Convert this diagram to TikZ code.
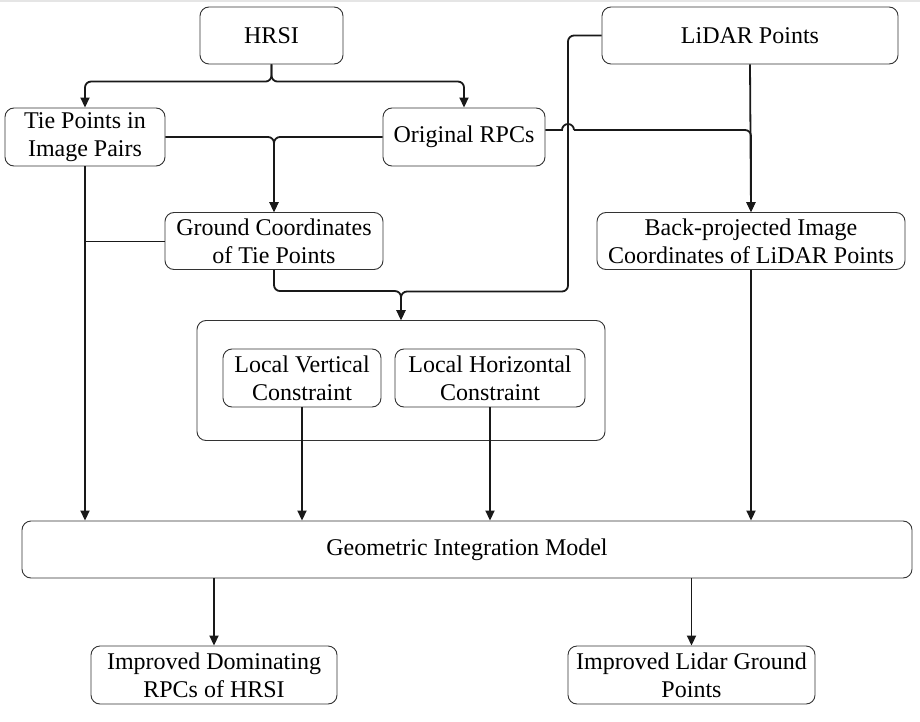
\documentclass[tikz,border=0pt]{standalone}
\usepackage{fontspec}
\setmainfont{Liberation Serif}
\usetikzlibrary{arrows.meta,calc}
\begin{document}
\begin{tikzpicture}[x=1pt,y=-1pt,
  box/.style={draw=black!80, line width=0.9pt, rounded corners=9pt, align=center,
    inner sep=0pt, font=\fontsize{24}{28}\selectfont, fill=white},
  conn/.style={line width=1.8pt, draw=black!90},
  arr/.style={conn, rounded corners=6pt, -{Triangle[length=10pt,width=9pt]}},
  thinline/.style={line width=1pt, draw=black!90}]
\useasboundingbox (0,0) rectangle (920,722);
\fill[black!10] (0,0) rectangle (920,2.5);
% nodes
\node[box, minimum width=408pt, minimum height=120pt] (cont) at (401,380.5) {};
\node[box, minimum width=143pt, minimum height=57pt] (hrsi) at (271.5,35.5) {HRSI};
\node[box, minimum width=296pt, minimum height=57pt] (lidar) at (750,35.5) {LiDAR Points};
\node[box, minimum width=160pt, minimum height=58pt] (tie) at (85,137) {Tie Points in\\Image Pairs};
\node[box, minimum width=162pt, minimum height=58pt] (rpc) at (464,137) {Original RPCs};
\node[box, minimum width=218pt, minimum height=57pt] (ground) at (274,241) {Ground Coordinates\\of Tie Points};
\node[box, minimum width=308pt, minimum height=57pt] (back) at (751,241) {Back-projected Image\\Coordinates of LiDAR Points};
\node[box, minimum width=158pt, minimum height=58pt] (lv) at (302,378) {Local Vertical\\Constraint};
\node[box, minimum width=190pt, minimum height=58pt] (lh) at (490,378) {Local Horizontal\\Constraint};
\node[box, minimum width=890pt, minimum height=57pt] (geom) at (467,549.5) {Geometric Integration Model};
\node[box, minimum width=246pt, minimum height=58pt] (dom) at (214,675) {Improved Dominating\\RPCs of HRSI};
\node[box, minimum width=247pt, minimum height=58pt] (ilg) at (691.5,675) {Improved Lidar Ground\\Points};
% helper coordinates
\coordinate (lj) at (568,291.5);
\coordinate (hopL) at (562,130);
\coordinate (hopR) at (574,130);
% connectors
\draw[arr] (hrsi.south) |- ([yshift=26pt]tie.north) -- (tie.north);
\draw[arr] (hrsi.south) |- ([yshift=26pt]rpc.north) -- (rpc.north);
\draw[arr] (tie.east) -| (ground.north);
\draw[arr] (rpc.west) -| (ground.north);
\draw[arr] (tie.south) -- (tie.south |- geom.north);
\draw[thinline] (ground.west) -- (ground.west -| tie.south);
\draw[arr] (ground.south) |- ([yshift=29pt]cont.north) -- (cont.north);
\draw[arr] (lidar.west) -| (lj) -| (cont.north);
\draw[arr] (lidar.south) -- (back.north);
\draw[conn] ([yshift=7pt]rpc.east) -- (hopL) arc[start angle=180, end angle=360, radius=6];
\draw[arr] (hopR) -| (back.north);
\draw[arr] (lv.south) -- (lv.south |- geom.north);
\draw[arr] (lh.south) -- (lh.south |- geom.north);
\draw[arr] (back.south) -- (back.south |- geom.north);
\draw[arr] (dom.north |- geom.south) -- (dom.north);
\draw[arr] (ilg.north |- geom.south) -- (ilg.north);
\end{tikzpicture}
\end{document}
